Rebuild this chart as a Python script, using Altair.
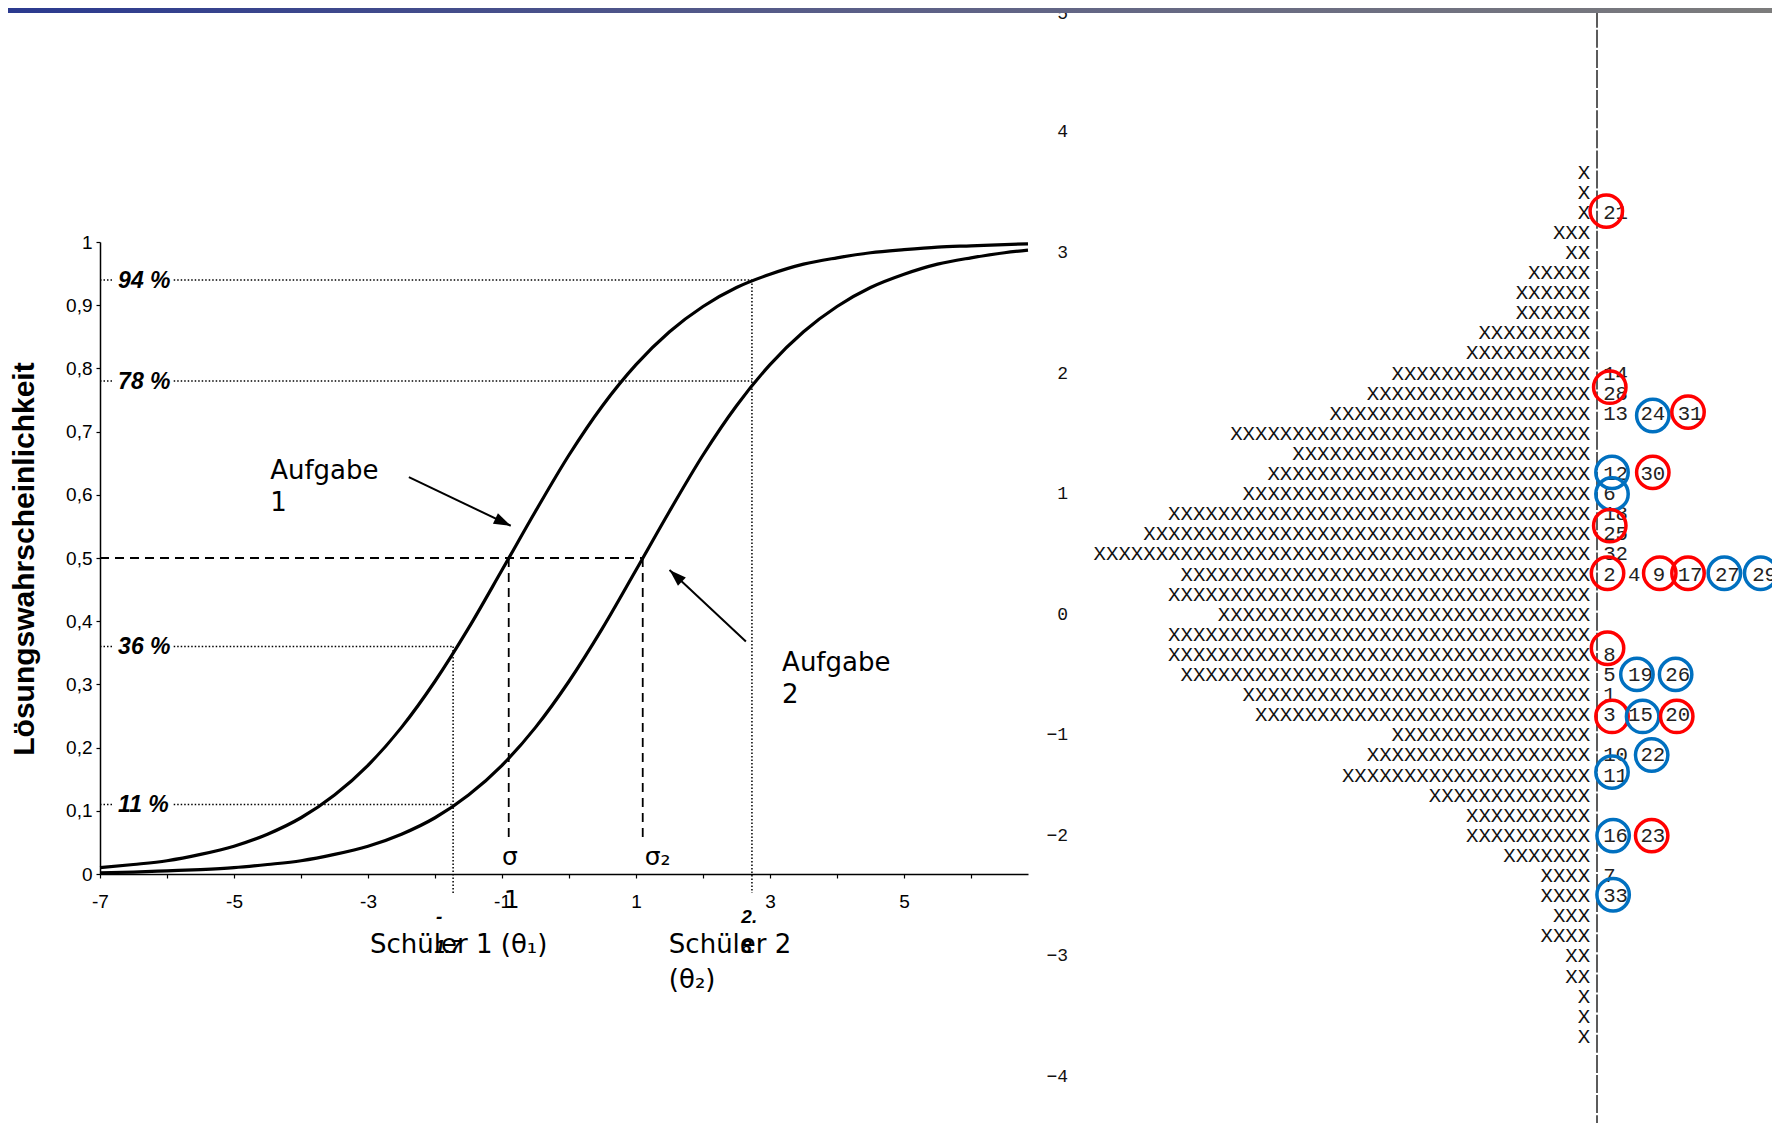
import altair as alt
import pandas as pd

# ---------------- left panel: item characteristic curves ----------------
theta = [-7, -6.5, -6, -5.5, -5, -4.5, -4, -3.5, -3, -2.5, -2, -1.5, -1, -0.5, 0,
         0.5, 1, 1.5, 2, 2.5, 3, 3.5, 4, 4.5, 5, 5.5, 6, 6.5, 6.85]
p_aufgabe1 = [0.010, 0.015, 0.021, 0.031, 0.044, 0.063, 0.089, 0.125, 0.172, 0.232,
              0.305, 0.389, 0.481, 0.574, 0.663, 0.741, 0.806, 0.858, 0.898, 0.928,
              0.949, 0.965, 0.975, 0.983, 0.988, 0.992, 0.994, 0.996, 0.997]
p_aufgabe2 = [0.002, 0.003, 0.005, 0.007, 0.010, 0.015, 0.021, 0.031, 0.044, 0.063,
              0.089, 0.125, 0.172, 0.232, 0.305, 0.389, 0.481, 0.574, 0.663, 0.741,
              0.806, 0.858, 0.898, 0.928, 0.949, 0.965, 0.975, 0.983, 0.987]

x_ticks = list(range(-7, 7))
y_ticks = [0, 0.1, 0.2, 0.3, 0.4, 0.5, 0.6, 0.7, 0.8, 0.9, 1]

# dotted guide lines (Schüler 1 = -1.73, Schüler 2 = 2.73)
dot_x1 = [-7, -5.9, -7, -5.9, -7, -5.9, -7, -5.9, -1.73, 2.73]
dot_x2 = [-6.82, 2.73, -6.82, 2.73, -6.82, -1.73, -6.82, -1.73, -1.73, 2.73]
dot_y1 = [0.94, 0.94, 0.78, 0.78, 0.36, 0.36, 0.11, 0.11, 0.36, 0.94]
dot_y2 = [0.94, 0.94, 0.78, 0.78, 0.36, 0.36, 0.11, 0.11, -0.03, -0.03]

# dashed 50 % lines (item difficulties -0.9 and 1.1)
dash_x1 = [-7, -0.9, 1.1]
dash_x2 = [1.1, -0.9, 1.1]
dash_y1 = [0.5, 0.5, 0.5]
dash_y2 = [0.5, 0.05, 0.05]

pct_labels = ["94 %", "78 %", "36 %", "11 %"]
pct_y = [0.94, 0.78, 0.36, 0.11]
pct_x = [-6.73, -6.73, -6.73, -6.73]

ann_text = ["Aufgabe", "1", "Aufgabe", "2", "Schüler 1 (θ₁)", "Schüler 2", "(θ₂)"]
ann_x = [-4.46, -4.46, 3.18, 3.18, -2.97, 1.49, 1.49]
ann_y = [0.638, 0.587, 0.334, 0.284, -0.112, -0.112, -0.168]

sig_text = ["σ", "σ₂", "1"]
sig_x = [-1.0, 1.13, -0.976]
sig_y = [0.014, 0.014, -0.054]

frag_text = ["-", "1.7", "2.", "8"]
frag_x = [-1.94, -1.81, 2.69, 2.65]
frag_y = [-0.068, -0.1155, -0.0675, -0.115]

arrow_x1 = [-2.39, 2.64]
arrow_y1 = [0.628, 0.368]
arrow_x2 = [-0.87, 1.50]
arrow_y2 = [0.551, 0.481]
arrow_angle = [115.6, 313.1]

# ---------------- right panel: Wright map ----------------
person_counts = [1, 1, 1, 3, 2, 5, 6, 6, 9, 10, 16, 18, 21, 29, 24, 26, 28, 34, 36, 40,
                 33, 34, 30, 34, 34, 33, 28, 27, 16, 18, 20, 13, 10, 10, 7, 4, 4, 3, 4,
                 2, 2, 1, 1, 1]
person_rows = list(range(len(person_counts)))

item_rows = [2, 10, 11, 12, 15, 16, 17, 18, 19, 20, 24, 25, 26, 27, 29, 30, 33, 35, 36]
item_text = ["21", "14", "28", "13 24 31", "12 30", "6", "18", "25", "32",
             "2 4 9 17 27 29", "8", "5 19 26", "1", "3 15 20", "10 22", "11",
             "16 23", "7", "33"]

circle_item = ["21", "28", "24", "31", "12", "30", "6", "25", "2", "9", "17", "27",
               "29", "8", "19", "26", "3", "15", "20", "22", "11", "16", "23", "33"]
circle_x = [0.75, 1.03, 4.5, 7.34, 1.21, 4.5, 1.21, 1.03, 0.85, 5.06, 7.34, 10.27,
            13.2, 0.85, 3.22, 6.34, 1.21, 3.68, 6.43, 4.41, 1.21, 1.3, 4.41, 1.3]
circle_row = [1.92, 10.68, 12.09, 11.92, 14.92, 14.92, 15.99, 17.57, 19.94, 19.94,
              19.94, 19.94, 19.94, 23.67, 24.97, 24.97, 27.06, 27.06, 27.06, 28.98,
              29.83, 32.99, 32.99, 35.93]
circle_group = ["r", "r", "b", "r", "b", "r", "b", "r", "r", "r", "r", "b",
                "b", "r", "b", "b", "r", "b", "r", "b", "b", "b", "r", "b"]

scale_labels = ["5", "4", "3", "2", "1", "0", "−1", "−2", "−3", "−4"]
scale_rows = [-7.9, -2, 4, 10, 16, 22, 28, 33, 39, 45]

RED = "#ff0000"
BLUE = "#0070c0"

# ---------------- scales / axes ----------------
NARROW = "Liberation Sans Narrow, Arial Narrow, Liberation Sans"
MONO = "Liberation Mono"

XS_L = alt.Scale(domain=[-7, 6.85], range=[92, 1020], nice=False, zero=False)
YS_L = alt.Scale(domain=[0, 1], range=[866, 234], nice=False, zero=False)

AX_X = alt.Axis(values=x_ticks, title=None, grid=False, offset=-249,
                labelExpr="(abs(datum.value % 2) == 1) ? ('' + datum.value) : ''",
                tickSize=4, tickWidth=1.2, tickColor="black",
                domainColor="black", domainWidth=1.5,
                labelFont=NARROW, labelFontSize=19, labelColor="black",
                labelPadding=14, labelFlush=False, labelOverlap=False)
AX_Y = alt.Axis(values=y_ticks, title=None, grid=False, offset=-92,
                labelExpr="datum.value == 0 ? '0' : (datum.value == 1 ? '1' : replace(format(datum.value, '.1f'), '.', ','))",
                tickSize=4, tickWidth=1.2, tickColor="black",
                domainColor="black", domainWidth=1.5,
                labelFont=NARROW, labelFontSize=19, labelColor="black",
                labelPadding=4, labelFlush=False, labelOverlap=False)


def xl(f):
    return alt.X(f, type="quantitative", scale=XS_L, axis=AX_X)


def yl(f):
    return alt.Y(f, type="quantitative", scale=YS_L, axis=AX_Y)


XS_R = alt.Scale(domain=[-45, 15], range=[1031, 1775], nice=False, zero=False)
YS_R = alt.Scale(domain=[-8, 48], range=[3.7, 1129.3], nice=False, zero=False)


def xr(f):
    return alt.X(f, type="quantitative", scale=XS_R, axis=None)


def yr(f):
    return alt.Y(f, type="quantitative", scale=YS_R, axis=None)


# ---------------- left panel layers ----------------
curves = pd.DataFrame({
    "theta": theta * 2,
    "p": p_aufgabe1 + p_aufgabe2,
    "item": ["Aufgabe 1"] * len(theta) + ["Aufgabe 2"] * len(theta),
})
curve_layer = alt.Chart(curves).mark_line(color="black", strokeWidth=3.2, interpolate="monotone").encode(
    x=xl("theta"), y=yl("p"), detail="item:N")

dots = pd.DataFrame({"x1": dot_x1, "x2": dot_x2, "y1": dot_y1, "y2": dot_y2})
dot_layer = alt.Chart(dots).mark_rule(color="black", strokeWidth=1.5, strokeDash=[1.5, 2]).encode(
    x=xl("x1"), x2=alt.X2("x2"), y=yl("y1"), y2=alt.Y2("y2"))

dashes = pd.DataFrame({"x1": dash_x1, "x2": dash_x2, "y1": dash_y1, "y2": dash_y2})
dash_layer = alt.Chart(dashes).mark_rule(color="black", strokeWidth=1.8, strokeDash=[9, 6]).encode(
    x=xl("x1"), x2=alt.X2("x2"), y=yl("y1"), y2=alt.Y2("y2"))

pct = pd.DataFrame({"t": pct_labels, "x": pct_x, "y": pct_y})
pct_layer = alt.Chart(pct).mark_text(align="left", baseline="middle", font=NARROW, fontSize=23,
                                     fontWeight="bold", fontStyle="italic", color="black", dy=1).encode(
    x=xl("x"), y=yl("y"), text="t:N")

ann = pd.DataFrame({"t": ann_text, "x": ann_x, "y": ann_y})
ann_layer = alt.Chart(ann).mark_text(align="left", baseline="middle", font="DejaVu Sans",
                                     fontSize=26, color="black").encode(
    x=xl("x"), y=yl("y"), text="t:N")

sig = pd.DataFrame({"t": sig_text, "x": sig_x, "y": sig_y})
sig_layer = alt.Chart(sig).mark_text(align="left", baseline="alphabetic", font="DejaVu Sans",
                                     fontSize=25, color="black").encode(
    x=xl("x"), y=yl("y"), text="t:N")

frag = pd.DataFrame({"t": frag_text, "x": frag_x, "y": frag_y})
frag_layer = alt.Chart(frag).mark_text(align="center", baseline="middle", font=NARROW,
                                       fontSize=19, fontWeight="bold", fontStyle="italic",
                                       color="black").encode(
    x=xl("x"), y=yl("y"), text="t:N")

arrows = pd.DataFrame({"x1": arrow_x1, "y1": arrow_y1, "x2": arrow_x2, "y2": arrow_y2,
                       "ang": arrow_angle})
arrow_line = alt.Chart(arrows).mark_rule(color="black", strokeWidth=2).encode(
    x=xl("x1"), x2=alt.X2("x2"), y=yl("y1"), y2=alt.Y2("y2"))
arrow_head = alt.Chart(arrows).mark_point(shape="M0,0L-0.34,1L0.34,1Z", filled=True, color="black",
                                          opacity=1, size=1150, strokeWidth=0).encode(
    x=xl("x2"), y=yl("y2"), angle=alt.Angle("ang:Q", scale=None))

ytitle = pd.DataFrame({"t": ["Lösungswahrscheinlichkeit"], "x": [-8.119], "y": [0.4984]})
ytitle_layer = alt.Chart(ytitle).mark_text(angle=270, align="center", baseline="middle",
                                           font="Liberation Sans", fontSize=30, fontWeight="bold",
                                           color="black").encode(
    x=xl("x"), y=yl("y"), text="t:N")

left = alt.layer(curve_layer, dot_layer, dash_layer, pct_layer, ann_layer, sig_layer,
                 frag_layer, arrow_line, arrow_head, ytitle_layer)

# ---------------- right panel layers ----------------
vline = pd.DataFrame({"x": [0], "y1": [-8.1], "y2": [48]})
vline_layer = alt.Chart(vline).mark_rule(color="#333333", strokeWidth=1.6, strokeDash=[18, 2.1]).encode(
    x=xr("x"), y=yr("y1"), y2=alt.Y2("y2"))

persons = pd.DataFrame({"row": person_rows, "t": ["X" * n for n in person_counts],
                        "x": [-0.55] * len(person_rows)})
person_layer = alt.Chart(persons).mark_text(align="right", baseline="middle", font=MONO,
                                            fontSize=20.7, color="#111111").encode(
    x=xr("x"), y=yr("row"), text="t:N")

items = pd.DataFrame({"row": item_rows, "t": item_text, "x": [0.5] * len(item_rows)})
item_layer = alt.Chart(items).mark_text(align="left", baseline="middle", font=MONO,
                                        fontSize=20.7, color="#222222").encode(
    x=xr("x"), y=yr("row"), text="t:N")

circles = pd.DataFrame({"item": circle_item, "x": circle_x, "row": circle_row,
                        "col": [RED if g == "r" else BLUE for g in circle_group]})
circle_layer = alt.Chart(circles).mark_point(shape="circle", filled=False, size=1050,
                                             strokeWidth=3.5, opacity=1).encode(
    x=xr("x"), y=yr("row"), color=alt.Color("col:N", scale=None))

scl = pd.DataFrame({"t": scale_labels, "row": scale_rows, "x": [-42.65] * len(scale_rows)})
scale_layer = alt.Chart(scl).mark_text(align="right", baseline="middle", font=MONO,
                                       fontSize=18, color="#111111").encode(
    x=xr("x"), y=yr("row"), text="t:N")

right = alt.layer(vline_layer, person_layer, item_layer, circle_layer, scale_layer)

# ---------------- header bar ----------------
header = alt.Chart(pd.DataFrame({"a": [0]})).mark_rect(
    color=alt.LinearGradient(
        gradient="linear",
        stops=[alt.GradientStop(color="#2b3a8f", offset=0),
               alt.GradientStop(color="#5c6087", offset=0.5),
               alt.GradientStop(color="#7c7c7c", offset=1)],
        x1=0, x2=1, y1=0, y2=0)
).encode(x=alt.value(0), x2=alt.value(1764), y=alt.value(0), y2=alt.value(5))

chart = alt.layer(left, right, header).resolve_scale(
    x="independent", y="independent"
).properties(
    width=1764, height=1115, padding=0,
    autosize=alt.AutoSizeParams(type="none"),
    background="white",
).configure_view(stroke=None)

chart.save("out.html", embed_options={"renderer": "svg", "actions": False})
